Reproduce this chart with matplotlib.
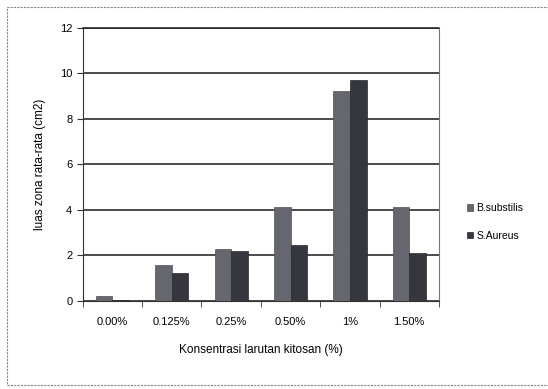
import numpy as np
import matplotlib.pyplot as plt
from matplotlib.patches import Rectangle

categories = ['0.00%', '0.125%', '0.25%', '0.50%', '1%', '1.50%']
b_subtilis = [0.2, 1.55, 2.25, 4.1, 9.2, 4.1]
s_aureus = [0.05, 1.2, 2.2, 2.45, 9.7, 2.1]
series_names = ['B.substilis', 'S.Aureus']

plt.rcParams['font.family'] = ['Liberation Sans', 'DejaVu Sans']

fig = plt.figure(figsize=(5.48, 3.89), dpi=100)
ax = fig.add_axes([0.151, 0.227, 0.650, 0.702])

x = np.arange(len(categories))
w = 0.28
ax.bar(x - w/2, b_subtilis, w, color='#66666e', edgecolor='#505058', linewidth=0.5,
       label=series_names[0], zorder=3)
ax.bar(x + w/2, s_aureus, w, color='#36363e', edgecolor='#26262c', linewidth=0.5,
       label=series_names[1], zorder=3)

ax.set_ylim(0, 12)
ax.set_xlim(-0.5, len(categories) - 0.5)
ax.set_yticks(range(0, 13, 2))
ax.yaxis.grid(True, color='#1a1a1a', linewidth=1.1, zorder=0)
ax.set_xticks(x)
ax.set_xticklabels(categories, fontsize=8)
ax.tick_params(axis='x', length=0, pad=12)
ax.set_xticks(np.arange(-0.5, len(categories), 1), minor=True)
ax.tick_params(axis='x', which='minor', length=4, direction='out', color='#333333')
ax.tick_params(axis='y', labelsize=8, length=4, color='#333333')

ax.spines['right'].set_color('#777777')
ax.spines['right'].set_linestyle((0, (2, 1)))
ax.spines['top'].set_color('#1a1a1a')
ax.spines['top'].set_linewidth(1.1)
ax.spines['left'].set_color('#333333')
ax.spines['bottom'].set_color('#333333')

ax.set_xlabel('Konsentrasi larutan kitosan (%)', fontsize=8.5, labelpad=12)
ax.set_ylabel('luas zona rata-rata (cm2)', fontsize=8.5, labelpad=10)

fig.legend(loc='center left', bbox_to_anchor=(0.835, 0.43), frameon=False,
           fontsize=7.5, handlelength=0.6, handleheight=0.6, handletextpad=0.3,
           labelspacing=1.7)

fig.patches.append(Rectangle((0.013, 0.01), 0.99, 0.972, transform=fig.transFigure,
                             fill=False, edgecolor='#888888', linewidth=0.8,
                             linestyle=(0, (2, 1))))

fig.savefig('out.png', dpi=100)
